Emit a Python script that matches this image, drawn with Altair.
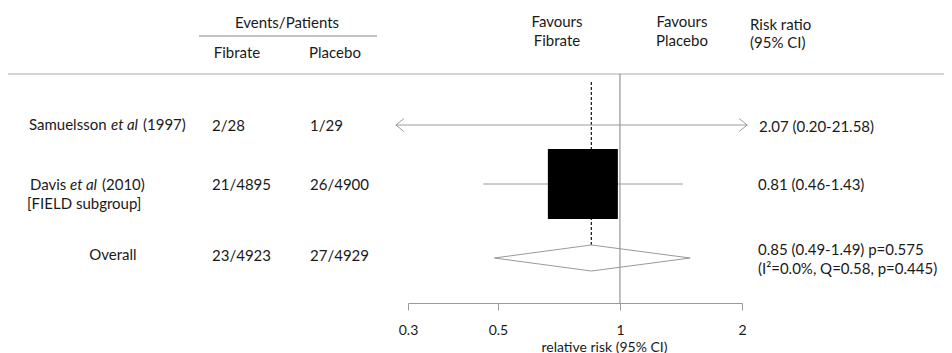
import altair as alt
import pandas as pd

# ---------------- data ----------------
study_name = ["Samuelsson", "Davis", "Overall"]
study_year = ["(1997)", "(2010)", ""]
study_sub = ["", "[FIELD subgroup]", ""]
fib_events = ["2/28", "21/4895", "23/4923"]
plac_events = ["1/29", "26/4900", "27/4929"]
rr_est = [2.07, 0.81, 0.85]
rr_lo = [0.20, 0.46, 0.49]
rr_hi = [21.58, 1.43, 1.49]
rr_label = ["2.07 (0.20-21.58)", "0.81 (0.46-1.43)", "0.85 (0.49-1.49) p=0.575"]
het_label = "(I\u00b2=0.0%, Q=0.58, p=0.445)"
row_pos = [1, 2, 3]
is_pooled = [False, False, True]
x_ticks = [0.3, 0.5, 1, 2]
null_value = [1.0]
show_min, show_max = 0.28, 2.06   # CI drawn with arrows beyond these

FONT = "Lato"
FS = 15
TXT = "#1a1a1a"
GRAY = "#9a9a9a"

df = pd.DataFrame({
    "name": study_name, "year": study_year, "sub": study_sub,
    "fib": fib_events, "plac": plac_events,
    "est": rr_est, "lo": rr_lo, "hi": rr_hi,
    "label": rr_label, "row": row_pos, "pooled": is_pooled,
})
df["lo_c"] = df["lo"].clip(lower=show_min)
df["hi_c"] = df["hi"].clip(upper=show_max)
studies = df[~df["pooled"]].copy()
pooled = df[df["pooled"]].copy()

half = 0.176  # diamond half height in row units
p = pooled.iloc[0]
diamond = pd.DataFrame({
    "x": [p["lo"], p["est"], p["hi"], p["est"], p["lo"]],
    "y": [p["row"], p["row"] - half, p["row"], p["row"] + half, p["row"]],
    "o": [0, 1, 2, 3, 4],
})
pooled["ytop"] = pooled["row"] - half

xscale = alt.Scale(type="log", domain=[0.3, 2], range=[400, 734], nice=False)
yscale = alt.Scale(domain=[1, 2, 3], range=[117, 176, 250], nice=False, zero=False)
xaxis = alt.Axis(values=x_ticks, format="~g", title="relative risk (95% CI)",
                 grid=False, labelFlush=False, tickSize=7, labelPadding=13,
                 domainColor=GRAY, tickColor=GRAY, labelColor=TXT,
                 domainWidth=1, tickWidth=1,
                 labelFont=FONT, labelFontSize=14, titleFont=FONT,
                 titleFontSize=14, titleFontWeight="normal", titleColor=TXT,
                 titleX=596, titleY=48, titleAlign="center",
                 titleBaseline="alphabetic")

def X(field):
    return alt.X(field, type="quantitative", scale=xscale, axis=xaxis)

def Y(field):
    return alt.Y(field, type="quantitative", scale=yscale, axis=None)

one = pd.DataFrame({"k": [0]})

def label(txt, x, y, align="center", style="normal"):
    return alt.Chart(one).mark_text(
        text=txt, align=align, baseline="middle", font=FONT, fontSize=FS,
        fontStyle=style, color=TXT).encode(x=alt.value(x), y=alt.value(y))

def hline(x1, x2, y, color):
    return alt.Chart(one).mark_rule(color=color, strokeWidth=1).encode(
        x=alt.value(x1), x2=alt.value(x2), y=alt.value(y))

def col_text(data, field, x, align="left", dy=0, style="normal"):
    return alt.Chart(data).mark_text(
        align=align, baseline="middle", font=FONT, fontSize=FS, dy=dy,
        fontStyle=style, color=TXT).encode(
        x=alt.value(x), y=Y("row"), text=alt.Text(field))

def fixed_text(data, txt, x, dy=0, style="normal"):
    return alt.Chart(data).mark_text(
        text=txt, align="left", baseline="middle", font=FONT, fontSize=FS,
        fontStyle=style, dy=dy, color=TXT).encode(x=alt.value(x), y=Y("row"))

layers = []
# header
layers += [
    label("Events/Patients", 279, 15),
    hline(191, 369, 28, "#888888"),
    label("Fibrate", 229, 45),
    label("Placebo", 327, 45),
    label("Favours", 549, 14), label("Fibrate", 549, 33),
    label("Favours", 674, 14), label("Placebo", 674, 33),
    label("Risk ratio", 742, 16.5, align="left"),
    label("(95% CI)", 742, 35, align="left"),
    hline(-1, 944, 66, "#aaaaaa"),
]

# null line at 1
layers.append(alt.Chart(pd.DataFrame({"v": null_value})).mark_rule(
    color="#808080", strokeWidth=1).encode(x=X("v"), y=alt.value(66), y2=alt.value(295)))

# pooled estimate dashed line
layers.append(alt.Chart(pooled).mark_rule(
    color="#222222", strokeWidth=1.3, strokeDash=[3, 2]).encode(
    x=X("est"), y=Y("ytop"), y2=alt.value(74)))

# CI lines
layers.append(alt.Chart(studies).mark_rule(color=GRAY, strokeWidth=1).encode(
    x=X("lo_c"), x2="hi_c", y=Y("row")))

# arrows
layers.append(alt.Chart(studies[studies["lo"] < show_min]).mark_point(
    shape="M1,-0.8L0,0L1,0.8", size=256, filled=False, color=GRAY,
    strokeWidth=1, opacity=1).encode(x=X("lo_c"), y=Y("row")))
layers.append(alt.Chart(studies[studies["hi"] > show_max]).mark_point(
    shape="M-1,-0.8L0,0L-1,0.8", size=256, filled=False, color=GRAY,
    strokeWidth=1, opacity=1).encode(x=X("hi_c"), y=Y("row")))

# box for Davis
layers.append(alt.Chart(studies[studies["name"] == "Davis"]).mark_point(
    shape="square", size=70 * 70, filled=True, color="black", opacity=1,
    strokeWidth=0).encode(x=X("est"), y=Y("row")))

# diamond
layers.append(alt.Chart(diamond).mark_line(color=GRAY, strokeWidth=1).encode(
    x=X("x"), y=Y("y"), order="o:O"))

# study names
sam = df[df["name"] == "Samuelsson"]
dav = df[df["name"] == "Davis"]
layers += [
    col_text(sam, "name", 21),
    fixed_text(sam, "et al", 103, style="italic"),
    col_text(sam, "year", 135),
    col_text(dav, "name", 22, dy=1),
    fixed_text(dav, "et al", 62, dy=1, style="italic"),
    col_text(dav, "year", 94, dy=1),
    col_text(dav, "sub", 19, dy=20),
    col_text(pooled, "name", 105, align="center", dy=-3.5),
]

# event columns
layers += [
    col_text(studies, "fib", 204, dy=0.5),
    col_text(studies, "plac", 302, dy=0.5),
    col_text(pooled, "fib", 204, dy=-2.5),
    col_text(pooled, "plac", 302, dy=-2.5),
]

# risk ratio text
layers += [
    col_text(sam, "label", 751, dy=1.5),
    col_text(dav, "label", 750, dy=1),
    col_text(pooled, "label", 750, dy=-8),
    fixed_text(pooled, het_label, 750, dy=10.5),
]

chart = alt.layer(*layers).properties(
    width=936, height=295,
    padding={"left": 0, "top": 0, "right": 0, "bottom": 50},
    autosize=alt.AutoSizeParams(type="none"),
).configure(background="white").configure_view(strokeWidth=0)

chart.save("out.html", embed_options={"renderer": "svg", "actions": False})
